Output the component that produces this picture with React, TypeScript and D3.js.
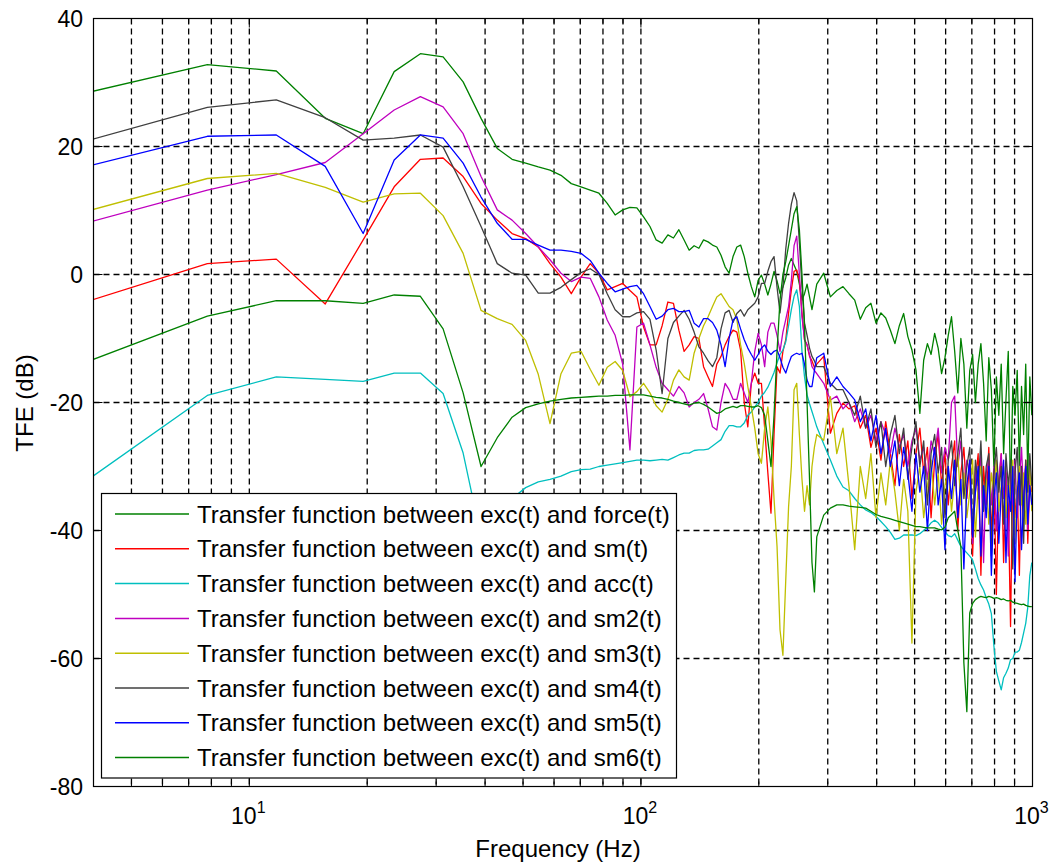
import React from "react";
import * as d3 from "d3";

// frequency bins (multiples of DF Hz)
const DF = 3.90625;
const BINS = [
  1, 2, 3, 4, 5, 6, 7, 8, 9, 10, 11, 12, 13, 14, 15, 16, 17, 18, 19, 20,
  21, 22, 23, 24, 25, 26, 27, 28, 29, 30, 31, 32, 33, 34, 35, 36, 37, 38, 39, 40,
  41, 42, 43, 44, 45, 46, 47, 48, 49, 50, 51, 52, 53, 54, 55, 56, 57, 58, 59, 60,
  61, 62, 63, 64, 65, 66, 67, 68, 69, 70, 71, 72,
  75, 78, 81, 84, 87, 90, 93, 96, 99, 102, 105, 108, 111, 114, 117, 120, 123, 126, 129, 132,
  135, 138, 141, 144, 147, 150, 153, 156, 159, 162, 165, 168, 171, 174, 177, 180, 183, 186, 189, 192,
  195, 198, 201, 204, 207, 210, 213, 216, 219, 222, 225, 228, 231, 234, 237, 240, 243, 246, 249, 252, 255,
];

const FORCE = [
  28.5, 32.8, 31.8, 24.4, 22.0, 31.7, 34.5, 34.0, 30.1, 24.4,
  19.7, 18.0, 17.4, 16.8, 16.3, 15.5, 14.2, 13.7, 13.2, 12.7,
  11.1, 9.3, 10.1, 10.5, 10.4, 9.0, 7.5, 5.4, 4.9, 6.2,
  5.7, 7.0, 5.4, 3.8, 4.5, 4.1, 5.4, 5.1, 4.6, 4.3,
  3.0, 1.2, 0.2, 2.8, 4.3, 4.6, 2.8, 0.2, -1.9, -3.5,
  -0.9, -0.1, -1.5, -3.2, -1.5, 0.5, -1.0, -3.0, -2.0, -0.5,
  1.5, 2.5, 1.5, 0.5, -1.5, -4.0, -3.0, -1.5, -3.5, -5.5,
  -3.5, -1.5,
  0.2, -3.5, -2.5, -1.9, -3.0, -4.0, -7.0, -5.2, -4.5, -7.6,
  -6.0, -6.8, -8.7, -10.8, -8.0, -6.1, -9.7, -11.8, -14.9, -21.7,
  -13.4, -10.8, -12.5, -9.2, -11.5, -15.5, -13.0, -9.5, -6.6, -12.0,
  -18.5, -10.0, -14.0, -24.0, -15.0, -12.5, -20.0, -14.0, -10.8, -17.0,
  -26.0, -13.0, -18.0, -30.0, -16.0, -22.0, -14.0, -28.0, -19.6, -12.0,
  -35.0, -17.5, -22.0, -15.0, -30.0, -17.5, -25.0, -14.0, -32.0, -16.0,
  -22.0,
];

const SM = [
  -4.1, 1.7, 2.4, -4.6, 5.4, 13.7, 18.0, 18.2, 15.3, 11.1,
  8.5, 6.4, 5.6, 4.3, 1.7, -0.4, -3.0, -0.4, 1.7, 0.2,
  -2.4, -1.9, -1.4, -2.5, -3.5, -8.2, -11.0, -11.0, -8.0, -4.3,
  -4.5, -8.7, -12.0, -11.0, -9.7, -10.0, -14.4, -16.0, -17.5, -14.0,
  -12.8, -11.0, -9.7, -8.7, -9.0, -11.8, -20.0, -23.8, -17.0, -15.4,
  -17.0, -17.0, -24.0, -31.0, -37.3, -25.0, -14.4, -15.4, -12.0, -10.2,
  -6.0, -2.4, 0.5, 0.7, -0.9, -6.0, -10.2, -11.0, -12.8, -13.5,
  -14.5, -14.0,
  -12.8, -24.8, -21.7, -20.1, -21.0, -20.5, -24.0, -22.0, -27.0, -24.0,
  -29.0, -23.0, -28.0, -33.0, -25.0, -30.0, -26.0, -35.0, -28.0, -24.0,
  -31.0, -27.0, -38.0, -29.0, -25.0, -33.0, -28.0, -36.0, -30.0, -26.0,
  -40.0, -31.0, -27.0, -35.0, -29.0, -44.0, -32.0, -28.0, -47.0, -30.0,
  -36.0, -27.0, -41.0, -31.0, -50.0, -33.0, -28.0, -45.0, -31.0, -36.0,
  -55.0, -30.0, -38.0, -33.0, -47.0, -30.0, -36.0, -29.0, -42.0, -32.0,
  -34.0,
];

const ACC = [
  -31.9, -18.9, -16.0, -16.4, -16.7, -15.4, -15.4, -18.6, -27.9, -41.0,
  -37.0, -35.0, -33.3, -32.4, -32.0, -31.5, -30.8, -30.5, -30.4, -30.0,
  -29.8, -29.6, -29.4, -29.2, -29.0, -29.0, -29.1, -29.0, -28.9, -29.0,
  -28.6, -28.2, -27.9, -27.9, -27.5, -27.4, -27.4, -27.3, -26.8, -26.3,
  -25.8, -24.5, -23.6, -23.6, -23.8, -23.8, -23.2, -22.0, -21.5, -20.7,
  -20.0, -19.0, -18.4, -17.6, -16.5, -15.3, -13.8, -12.5, -11.8, -10.5,
  -8.0, -5.5, -3.4, -2.4, -5.0, -12.0, -16.0, -18.8, -20.2, -21.4,
  -22.6, -23.8,
  -26.5, -29.0, -31.5, -33.2, -33.8, -35.0, -36.0, -36.8, -37.2, -37.8,
  -38.6, -39.4, -40.3, -41.4, -41.2, -40.7, -40.7, -40.7, -40.8, -40.5,
  -40.0, -39.5, -38.8, -38.4, -38.8, -39.5, -40.2, -40.8, -41.0, -40.5,
  -41.5, -42.5, -43.0, -43.5, -44.0, -44.6, -46.0, -47.5, -48.5, -49.3,
  -50.5, -51.5, -53.0, -58.0, -62.0, -63.5, -64.9, -63.0, -62.3, -61.5,
  -60.2, -60.0, -59.0, -59.0, -58.7, -57.5, -56.0, -54.5, -52.0, -47.0,
  -45.0,
];

const SM2 = [
  8.2, 13.2, 15.6, 17.5, 22.0, 25.7, 27.8, 26.2, 22.0, 15.3,
  10.1, 8.5, 6.4, 4.3, 2.3, 0.2, -1.1, -0.4, -0.6, -3.5,
  -7.1, -9.5, -14.0, -27.4, -8.2, -7.6, -11.0, -14.5, -17.0, -18.0,
  -19.0, -17.5, -18.5, -20.7, -20.0, -19.5, -18.6, -21.0, -23.8, -24.3,
  -20.0, -17.0, -18.0, -19.5, -19.5, -17.0, -18.5, -20.0, -17.0, -12.0,
  -9.2, -11.0, -14.4, -9.0, -7.6, -7.6, -9.5, -12.0, -9.0, -7.0,
  -5.0, -1.0, 4.5, 6.0, 0.0, -6.6, -10.2, -11.0, -12.5, -14.4,
  -15.0, -15.5,
  -17.0, -19.6, -19.0, -21.0, -20.0, -23.0, -21.0, -24.0, -22.0, -26.0,
  -23.0, -25.0, -28.0, -24.0, -27.0, -25.0, -30.0, -26.0, -24.0, -29.0,
  -27.0, -32.0, -26.0, -28.0, -24.0, -31.0, -27.0, -29.0, -20.0, -19.0,
  -30.0, -26.0, -33.0, -29.0, -31.0, -42.0, -30.0, -35.0, -28.0, -45.0,
  -31.0, -29.0, -36.0, -30.0, -40.0, -32.0, -28.0, -35.0, -30.0, -44.0,
  -31.0, -36.0, -29.0, -38.0, -32.0, -27.0, -35.0, -30.0, -40.0, -31.0,
  -33.0,
];

const SM3 = [
  10.0, 15.0, 15.8, 13.6, 11.3, 12.6, 12.7, 9.2, 3.3, -5.6,
  -6.9, -7.8, -10.3, -15.6, -23.3, -15.5, -12.3, -12.0, -14.8, -17.3,
  -14.5, -13.6, -15.0, -19.1, -18.3, -17.0, -18.5, -20.5, -21.5, -19.5,
  -16.5, -14.9, -16.0, -16.5, -12.3, -10.0, -8.0, -6.6, -5.0, -3.5,
  -3.0, -4.0, -5.0, -5.5, -7.0, -11.0, -13.9, -17.5, -20.7, -24.0,
  -28.0, -29.5, -24.0, -20.7, -26.0, -35.0, -42.5, -55.5, -59.5, -47.7,
  -36.3, -30.0, -18.0, -17.0, -25.0, -32.0, -37.0, -33.0, -36.0, -30.0,
  -27.0, -25.0,
  -25.9, -19.1, -28.0, -24.0, -33.0, -43.0, -30.0, -35.0, -28.0, -38.0,
  -31.0, -36.0, -29.0, -34.0, -40.0, -32.0, -37.0, -57.6, -34.0, -30.0,
  -38.0, -33.0, -29.0, -36.0, -31.0, -39.0, -33.0, -30.0, -37.0, -32.0,
  -28.0, -36.0, -31.0, -38.0, -34.0, -29.0, -41.0, -33.0, -30.0, -36.0,
  -32.0, -39.0, -31.0, -34.0, -29.0, -37.0, -33.0, -30.0, -38.0, -32.0,
  -35.0, -29.0, -42.0, -33.0, -30.0, -36.0, -31.0, -39.0, -34.0, -30.0,
  -37.0,
];

const SM4 = [
  21.0, 26.1, 27.3, 24.5, 21.0, 21.3, 21.8, 19.9, 13.7, 7.5,
  1.7, 0.2, -0.1, -2.9, -2.9, -2.0, -0.8, 0.3, 0.9, 0.0,
  -3.0, -5.5, -6.6, -6.6, -6.0, -5.8, -7.0, -11.8, -18.6, -10.0,
  -7.5, -6.5, -5.6, -7.0, -9.0, -11.3, -12.3, -13.5, -14.4, -13.0,
  -8.5, -6.0, -5.6, -7.5, -6.1, -5.5, -6.5, -5.5, -5.0, -4.5,
  -3.5, -1.4, -1.4, 0.5, 2.0, 2.8, -2.0, -6.0, -2.0, 4.0,
  8.0, 11.0, 12.8, 11.5, 5.0, -2.0, -7.6, -9.5, -11.5, -12.8,
  -13.5, -14.4,
  -14.4, -17.0, -18.0, -18.0, -20.0, -22.0, -19.0, -24.0, -21.0, -27.0,
  -23.0, -30.0, -25.0, -22.0, -28.0, -24.0, -32.0, -27.0, -23.0, -30.0,
  -26.0, -36.0, -28.0, -25.0, -31.0, -27.0, -38.0, -29.0, -26.0, -33.0,
  -28.0, -24.0, -35.0, -30.0, -27.0, -41.0, -29.0, -33.0, -26.0, -37.0,
  -30.0, -28.0, -44.0, -31.0, -27.0, -34.0, -30.0, -39.0, -28.0, -33.0,
  -29.0, -46.0, -31.0, -27.0, -36.0, -30.0, -42.0, -29.0, -34.0, -28.0,
  -33.0,
];

const SM5 = [
  17.0, 21.6, 21.8, 16.9, 6.4, 17.9, 21.8, 21.3, 17.4, 12.1,
  8.0, 5.5, 5.5, 4.6, 3.8, 3.8, 3.6, 3.3, 2.2, 0.2,
  -1.4, -2.7, -2.3, -1.9, -1.7, -3.0, -5.0, -7.0, -6.5, -5.5,
  -5.3, -5.8, -5.8, -5.6, -7.6, -8.2, -6.9, -6.9, -7.5, -8.7,
  -11.0, -14.4, -10.0, -7.1, -6.6, -8.5, -10.2, -11.5, -12.5, -13.4,
  -12.5, -11.5, -11.0, -12.0, -12.5, -12.0, -11.8, -13.0, -14.5, -15.4,
  -14.0, -12.8, -12.5, -12.3, -12.5, -12.3, -14.0, -16.5, -17.5, -17.5,
  -15.0, -13.0,
  -12.3, -17.5, -16.0, -17.5, -18.5, -19.6, -23.0, -21.0, -26.0, -22.0,
  -28.0, -24.0, -30.0, -26.0, -33.0, -27.0, -31.0, -37.0, -28.0, -34.0,
  -30.0, -40.0, -31.0, -27.0, -36.0, -32.0, -43.0, -30.0, -35.0, -29.0,
  -38.0, -32.0, -46.0, -33.0, -29.0, -41.0, -34.0, -30.0, -44.0, -33.0,
  -38.0, -30.0, -47.0, -35.0, -31.0, -42.0, -34.0, -29.0, -45.0, -33.0,
  -37.0, -30.0, -48.0, -34.0, -31.0, -43.0, -35.0, -30.0, -39.0, -33.0,
  -36.0,
];

const SM6 = [
  -13.5, -6.5, -4.1, -4.1, -4.5, -3.2, -3.4, -8.5, -18.5, -30.0,
  -25.5, -22.3, -20.8, -20.2, -19.8, -19.5, -19.3, -19.2, -19.1, -19.0,
  -19.0, -18.9, -18.9, -18.8, -18.8, -18.8, -19.0, -19.2, -19.3, -19.5,
  -19.8, -20.0, -20.2, -20.4, -20.1, -20.0, -20.3, -20.7, -21.2, -21.7,
  -21.5, -21.0, -20.8, -20.6, -20.8, -20.5, -20.5, -20.6, -20.7, -20.7,
  -20.5, -20.8, -22.0, -26.0, -30.0, -22.0, -12.0, -4.0, 0.0, 2.0,
  4.5, 7.0, 9.5, 10.6, 7.0, 0.0, -8.0, -20.0, -32.0, -45.0,
  -49.6, -41.0,
  -37.6, -36.5, -36.0, -36.0, -36.2, -36.3, -36.4, -36.5, -37.0, -37.5,
  -37.8, -38.0, -38.2, -38.4, -38.6, -38.8, -39.0, -39.2, -39.4, -39.4,
  -39.5, -39.6, -39.6, -39.6, -39.8, -39.9, -39.5, -38.0, -37.5, -37.0,
  -40.0, -42.5, -60.7, -68.3, -52.9, -51.4, -50.8, -50.5, -50.3, -50.4,
  -50.5, -50.3, -50.4, -50.6, -50.5, -50.6, -50.8, -50.7, -50.9, -51.0,
  -50.9, -51.2, -51.3, -51.4, -51.5, -51.6, -51.5, -51.7, -51.8, -51.9,
  -51.9,
];

const SERIES_NAMES = [
  "Transfer function between exc(t) and force(t)",
  "Transfer function between exc(t) and sm(t)",
  "Transfer function between exc(t) and acc(t)",
  "Transfer function between exc(t) and sm2(t)",
  "Transfer function between exc(t) and sm3(t)",
  "Transfer function between exc(t) and sm4(t)",
  "Transfer function between exc(t) and sm5(t)",
  "Transfer function between exc(t) and sm6(t)",
];
const SERIES_VALUES = [FORCE, SM, ACC, SM2, SM3, SM4, SM5, SM6];
const SERIES_COLORS = ["#008000", "#ff0000", "#00bfbf", "#bf00bf", "#bfbf00", "#404040", "#0000ff", "#008000"];

const Y_TICKS = [-80, -60, -40, -20, 0, 20, 40];
const X_LABEL_TICKS = [10, 100, 1000];
const X_LABEL_EXP = ["1", "2", "3"];

const FONT = "'Liberation Sans', Arial, Helvetica, sans-serif";

export default function App() {
  const W = 1053;
  const H = 866;
  const L = 93.5, R = 1032.5, T = 18.5, B = 786.5;

  const x = d3.scaleLog().domain([4, 1000]).range([L, R]);
  const y = d3.scaleLinear().domain([-80, 40]).range([B, T]);

  const gridX = x.ticks().filter((v) => x(v) > L + 1 && x(v) < R - 1);
  const isMajor = (v: number) => Math.abs(Math.log10(v) - Math.round(Math.log10(v))) < 1e-9;

  const line = d3
    .line<number>()
    .x((_, i) => x(BINS[i] * DF))
    .y((v) => y(v));

  const legX = 101.5, legY = 493.5, legW = 575, legH = 284.5;
  const rowY0 = 514, rowDy = 34.8;

  return (
    <svg
      width={W}
      height={H}
      style={{ position: "absolute", left: 0, top: 0, background: "#fff" }}
      fontFamily={FONT}
    >
      <rect x={0} y={0} width={W} height={H} fill="#fff" />
      <defs>
        <clipPath id="plotclip">
          <rect x={L} y={T} width={R - L} height={B - T} />
        </clipPath>
      </defs>

      {/* grid */}
      <g stroke="#000" strokeWidth={1.3} strokeDasharray="6,4" fill="none">
        {gridX.map((v) => (
          <line key={"gx" + v} x1={x(v)} x2={x(v)} y1={T} y2={B} />
        ))}
        {Y_TICKS.filter((v) => v > -80 && v < 40).map((v) => (
          <line key={"gy" + v} x1={L} x2={R} y1={y(v)} y2={y(v)} />
        ))}
      </g>

      {/* data */}
      <g clipPath="url(#plotclip)" fill="none" strokeWidth={1.3} strokeLinejoin="round">
        {SERIES_VALUES.map((vals, i) => (
          <path key={"s" + i} d={line(vals) || ""} stroke={SERIES_COLORS[i]} />
        ))}
      </g>

      {/* ticks */}
      <g stroke="#000" strokeWidth={1}>
        {Y_TICKS.map((v) => (
          <g key={"ty" + v}>
            <line x1={L} x2={L + 9} y1={y(v)} y2={y(v)} />
            <line x1={R - 9} x2={R} y1={y(v)} y2={y(v)} />
          </g>
        ))}
        {gridX.map((v) => {
          const len = isMajor(v) ? 9 : 5;
          return (
            <g key={"tx" + v}>
              <line x1={x(v)} x2={x(v)} y1={B} y2={B - len} />
              <line x1={x(v)} x2={x(v)} y1={T} y2={T + len} />
            </g>
          );
        })}
      </g>

      {/* frame */}
      <rect x={L} y={T} width={R - L} height={B - T} fill="none" stroke="#000" strokeWidth={1.2} />

      {/* y tick labels */}
      <g fontSize={23} fill="#000" textAnchor="end">
        {Y_TICKS.map((v) => (
          <text key={"ly" + v} x={83} y={y(v) + 8}>
            {v}
          </text>
        ))}
      </g>

      {/* x tick labels */}
      <g fontSize={23} fill="#000" textAnchor="middle">
        {X_LABEL_TICKS.map((v, i) => (
          <text key={"lx" + v} x={x(v) - 1} y={824}>
            10
            <tspan dy={-11} fontSize={16}>
              {X_LABEL_EXP[i]}
            </tspan>
          </text>
        ))}
      </g>

      {/* axis labels */}
      <text x={558} y={857} fontSize={24} textAnchor="middle" fill="#000">
        Frequency (Hz)
      </text>
      <text
        transform={`translate(33,403) rotate(-90)`}
        fontSize={24}
        textAnchor="middle"
        fill="#000"
      >
        TFE (dB)
      </text>

      {/* legend */}
      <rect x={legX} y={legY} width={legW} height={legH} fill="#fff" stroke="#000" strokeWidth={1.2} />
      {SERIES_NAMES.map((name, i) => {
        const ry = rowY0 + i * rowDy;
        return (
          <g key={"lg" + i}>
            <line x1={115} x2={189} y1={ry} y2={ry} stroke={SERIES_COLORS[i]} strokeWidth={1.5} />
            <text x={197} y={ry + 8.5} fontSize={24} fill="#000">
              {name}
            </text>
          </g>
        );
      })}
    </svg>
  );
}
